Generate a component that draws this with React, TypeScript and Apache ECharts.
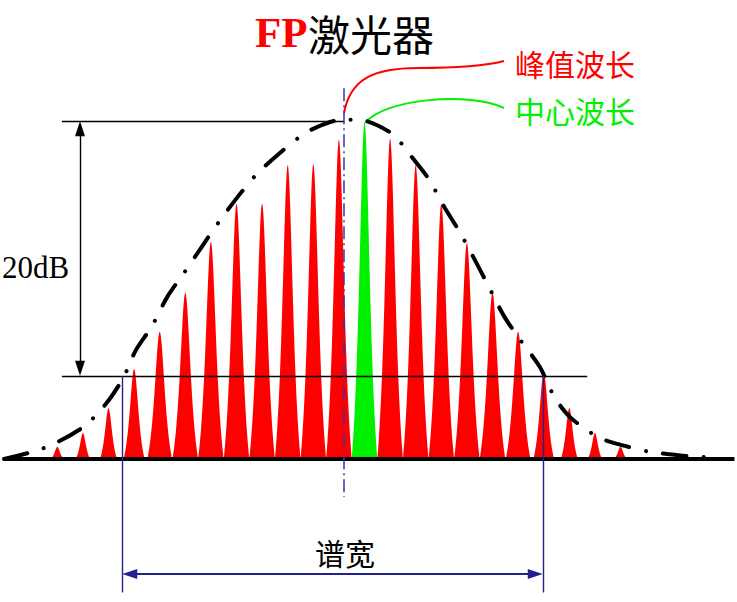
import React, { useEffect, useRef } from "react";
import * as echarts from "echarts";

// Longitudinal modes of the FP laser (mode index) and their relative intensity
const modeIndex = [0, 1, 2, 3, 4, 5, 6, 7, 8, 9, 10, 11, 12, 13, 14, 15, 16, 17, 18, 19, 20, 21, 22];
const peakHeights = [3.6, 7.7, 15.1, 26.7, 37.7, 49.3, 64.4, 75.7, 75.7, 87.2, 87.5, 94.7, 100, 95, 87.2, 75.7, 64.1, 49.3, 37.7, 25.8, 15.1, 7.7, 3.6];
const centerMode = 12;

// Gain envelope (dash-dot curve)
const envelopeX = [-2.08, -0.52, 0.96, 1.86, 2.57, 3.07, 3.7, 4.32, 4.95, 5.69, 6.28, 7.1, 7.8, 8.74, 9.56, 10.14, 10.85, 11.43, 12.02, 12.92, 13.42, 13.85, 14.48, 15.14, 15.69, 16.35, 16.82, 17.45, 18.03, 18.85, 19.25, 19.6, 20.06, 20.92, 21.51, 22.17, 23.15, 23.82, 24.52, 25.57];
const envelopeY = [0, 3.26, 9.2, 16.0, 24.0, 32.3, 39.5, 48.4, 55.2, 63.5, 70.0, 78.3, 84.6, 91.1, 96.1, 98.5, 100.4, 100.7, 100.4, 97.3, 93.8, 89.6, 83.4, 74.5, 67.7, 58.5, 51.6, 42.4, 35.9, 27.3, 20.8, 16.3, 12.2, 7.4, 5.3, 3.9, 2.1, 1.5, 0.9, 0.45];

// Annotation levels (data units)
const peakWavelength = 11.2;
const refTopLevel = 100.3;
const refLowLevel = 24.6;
const widthLeft = 2.53;
const widthRight = 18.97;

const RED = "#ff0000";
const GREEN = "#00f000";
const NAVY = "#22228c";
const CJK = '"Noto Sans CJK SC", sans-serif';
const SERIF = '"Liberation Serif", "Times New Roman", serif';

export default function App() {
  const ref = useRef<HTMLDivElement>(null);
  useEffect(() => {
    if (!ref.current) return;
    const chart = echarts.init(ref.current, null, { renderer: "svg" });
    const spikeData = modeIndex.map((x, i) => [x, peakHeights[i]]);
    const envData = envelopeX.map((x, i) => [x, envelopeY[i]]);

    const thin = { color: "#000", width: 1.4, type: "solid" };
    const navy = { color: NAVY, width: 1.4, type: "solid" };

    chart.setOption({
      animation: false,
      backgroundColor: "#ffffff",
      grid: { left: 0, right: 0, top: 0, bottom: 0 },
      xAxis: { type: "value", min: -2.238, max: 26.55, show: false },
      yAxis: { type: "value", min: -42.43, max: 136.2, show: false },
      series: [
        {
          type: "custom",
          z: 1,
          clip: false,
          silent: true,
          data: spikeData,
          renderItem: (params: any, api: any) => {
            const x = api.value(0);
            const h = api.value(1);
            const b = api.coord([x, 0]);
            const t = api.coord([x, h]);
            const hp = b[1] - t[1];
            const hw = Math.min(12.8, 6 + hp * 0.05);
            const g = hw * 0.56;
            const c = 1 / (1 + (hw / g) * (hw / g));
            const pts: number[][] = [];
            const N = 60;
            for (let k = -N; k <= N; k++) {
              const dx = (k / N) * hw;
              const L = 1 / (1 + (dx / g) * (dx / g));
              const f = Math.max(0, (L - c) / (1 - c));
              pts.push([b[0] + dx, b[1] - hp * f]);
            }
            return {
              type: "polygon",
              shape: { points: pts },
              style: { fill: params.dataIndex === centerMode ? GREEN : RED },
            };
          },
        },
        {
          type: "line",
          z: 3,
          clip: false,
          silent: true,
          data: envData,
          smooth: 0.3,
          symbol: "none",
          lineStyle: { color: "#000", width: 4, type: [24, 17, 0.1, 17], cap: "round" },
          markLine: {
            silent: true,
            symbol: ["none", "none"],
            label: { show: false },
            emphasis: { disabled: true },
            data: [
              [
                { coord: [-2.12, 0], lineStyle: { color: "#000", width: 4, type: "solid" } },
                { coord: [26.45, 0] },
              ],
              [{ coord: [0.18, refTopLevel], lineStyle: thin }, { coord: [peakWavelength, refTopLevel] }],
              [{ coord: [0.18, refLowLevel], lineStyle: thin }, { coord: [20.7, refLowLevel] }],
              [
                { coord: [0.887, refTopLevel - 2.3], symbol: "triangle", symbolSize: [10, 15], lineStyle: thin },
                { coord: [0.887, refLowLevel + 2.3], symbol: "triangle", symbolSize: [10, 15] },
              ],
              [{ coord: [widthLeft, refLowLevel], lineStyle: navy }, { coord: [widthLeft, -39.6] }],
              [{ coord: [widthRight, refLowLevel], lineStyle: navy }, { coord: [widthRight, -39.6] }],
              [
                { coord: [widthLeft + 0.3, -34.1], symbol: "triangle", symbolSize: [10, 15], itemStyle: { color: NAVY }, lineStyle: { color: NAVY, width: 2, type: "solid" } },
                { coord: [widthRight - 0.3, -34.1], symbol: "triangle", symbolSize: [10, 15], itemStyle: { color: NAVY } },
              ],
              [
                { coord: [peakWavelength, 110], lineStyle: { color: "#3535b0", width: 1.5, type: [13, 4, 2, 4] } },
                { coord: [peakWavelength, -11.3] },
              ],
            ],
          },
        },
      ],
      graphic: [
        {
          type: "text",
          x: 255,
          y: 32,
          style: { text: "FP", font: `bold 43px ${SERIF}`, fill: RED, textAlign: "left", textVerticalAlign: "middle" },
        },
        {
          type: "text",
          x: 308,
          y: 32,
          style: { text: "激光器", font: `42px ${CJK}`, fill: "#000", textAlign: "left", textVerticalAlign: "middle" },
        },
        {
          type: "bezierCurve",
          shape: { x1: 344, y1: 113, cpx1: 350, cpy1: 80, cpx2: 372, cpy2: 68, x2: 418, y2: 68 },
          style: { stroke: RED, lineWidth: 2, fill: null },
        },
        {
          type: "bezierCurve",
          shape: { x1: 418, y1: 68, cpx1: 460, cpy1: 68, cpx2: 485, cpy2: 66, x2: 504, y2: 61 },
          style: { stroke: RED, lineWidth: 2, fill: null },
        },
        {
          type: "bezierCurve",
          shape: { x1: 365, y1: 123, cpx1: 385, cpy1: 98, cpx2: 470, cpy2: 92, x2: 504, y2: 108 },
          style: { stroke: GREEN, lineWidth: 2, fill: null },
        },
        {
          type: "text",
          x: 515,
          y: 63,
          style: { text: "峰值波长", font: `30px ${CJK}`, fill: RED, textAlign: "left", textVerticalAlign: "middle" },
        },
        {
          type: "text",
          x: 515,
          y: 110,
          style: { text: "中心波长", font: `30px ${CJK}`, fill: GREEN, textAlign: "left", textVerticalAlign: "middle" },
        },
        {
          type: "text",
          x: 2,
          y: 267,
          style: { text: "20dB", font: `31px ${SERIF}`, fill: "#000", textAlign: "left", textVerticalAlign: "middle" },
        },
        {
          type: "text",
          x: 345,
          y: 552,
          style: { text: "谱宽", font: `30px ${CJK}`, fill: "#000", textAlign: "center", textVerticalAlign: "middle" },
        },
      ],
    });
    return () => chart.dispose();
  }, []);
  return (
    <div
      ref={ref}
      style={{ position: "fixed", left: 0, top: 0, width: 737, height: 602, background: "#fff" }}
    />
  );
}
